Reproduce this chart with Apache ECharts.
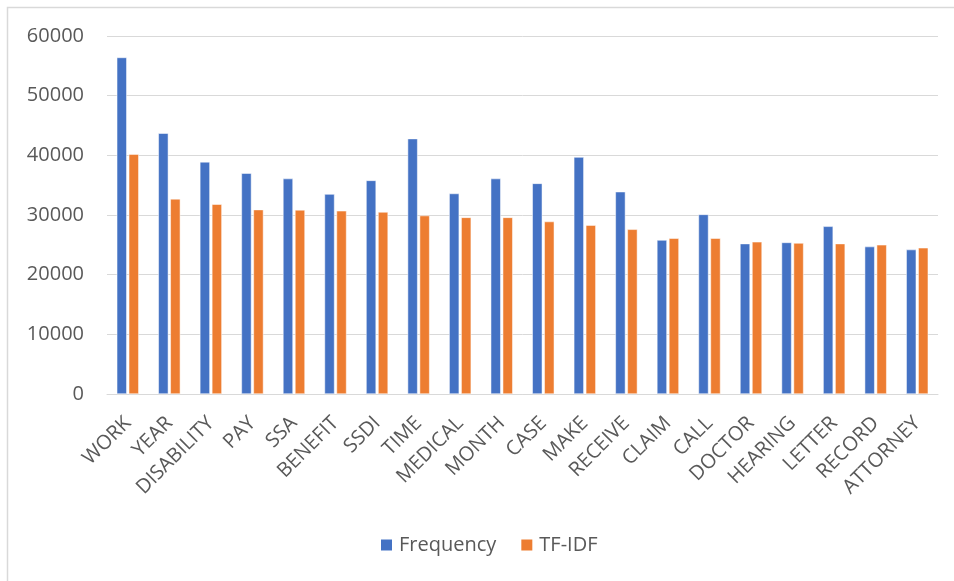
<!DOCTYPE html>
<html>
<head>
<meta charset="utf-8">
<script src="https://cdn.jsdelivr.net/npm/echarts@6/dist/echarts.min.js"></script>
<style>
  html, body { margin: 0; padding: 0; background: #ffffff; }
  #chart { width: 954px; height: 581px; }
</style>
</head>
<body>
<div id="chart"></div>
<script>
// Terms ranked by TF-IDF score, with raw frequency alongside
const terms = ['WORK', 'YEAR', 'DISABILITY', 'PAY', 'SSA', 'BENEFIT', 'SSDI', 'TIME', 'MEDICAL', 'MONTH',
  'CASE', 'MAKE', 'RECEIVE', 'CLAIM', 'CALL', 'DOCTOR', 'HEARING', 'LETTER', 'RECORD', 'ATTORNEY'];
const frequency = [56400, 43700, 38900, 37000, 36100, 33500, 35800, 42800, 33600, 36100,
  35300, 39700, 33900, 25800, 30100, 25200, 25400, 28100, 24700, 24200];
const tfidf = [40200, 32700, 31800, 30900, 30850, 30700, 30500, 29900, 29600, 29600,
  28900, 28300, 27600, 26100, 26100, 25500, 25300, 25200, 25000, 24500];
const seriesNames = ['Frequency', 'TF-IDF'];

const FONT = '"Open Sans", "Noto Sans", sans-serif';
const TEXT = '#595959';

const chart = echarts.init(document.getElementById('chart'), null, { renderer: 'canvas' });

chart.setOption({
  animation: false,
  backgroundColor: '#ffffff',
  textStyle: { fontFamily: FONT },
  color: ['#4472C4', '#ED7D31'],
  grid: { left: 107, right: 16, top: 36, bottom: 187, containLabel: false },
  legend: {
    data: seriesNames,
    left: 374,
    top: 530,
    icon: 'rect',
    itemWidth: 13,
    itemHeight: 13,
    itemGap: 23,
    textStyle: { color: TEXT, fontSize: 20, fontFamily: FONT, padding: [0, 0, 0, 1] }
  },
  xAxis: {
    type: 'category',
    data: terms,
    axisLine: { lineStyle: { color: '#D9D9D9', width: 1 } },
    axisTick: { show: false },
    axisLabel: {
      rotate: 45,
      interval: 0,
      margin: 26,
      color: TEXT,
      fontSize: 20,
      fontFamily: FONT
    }
  },
  yAxis: {
    type: 'value',
    min: 0,
    max: 60000,
    interval: 10000,
    axisLine: { show: false },
    axisTick: { show: false },
    splitLine: { lineStyle: { color: '#D9D9D9', width: 1 } },
    axisLabel: {
      color: TEXT,
      fontSize: 20,
      fontFamily: FONT,
      margin: 23,
      formatter: function (v) { return String(v); }
    }
  },
  series: [
    {
      name: seriesNames[0],
      type: 'bar',
      data: frequency,
      barWidth: 10,
      barGap: '20%',
      itemStyle: { borderColor: '#ffffff', borderWidth: 0.5 }
    },
    {
      name: seriesNames[1],
      type: 'bar',
      data: tfidf,
      barWidth: 10,
      barGap: '20%',
      itemStyle: { borderColor: '#ffffff', borderWidth: 0.5 }
    }
  ],
  graphic: [
    {
      type: 'polyline',
      silent: true,
      shape: { points: [[7.5, 581], [7.5, 7.5], [954, 7.5]] },
      style: { stroke: '#D9D9D9', lineWidth: 1.5, fill: null }
    }
  ]
});
</script>
</body>
</html>
